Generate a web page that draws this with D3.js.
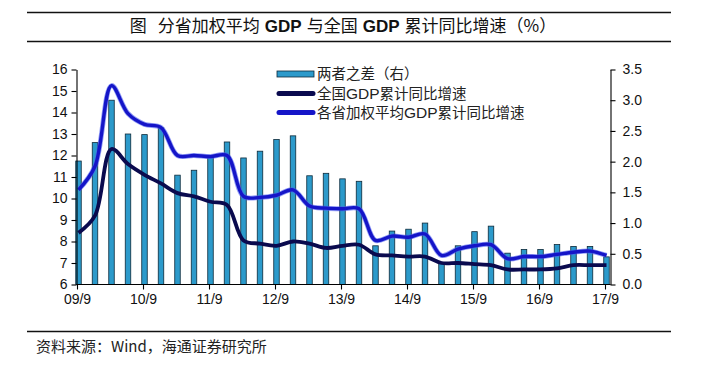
<!DOCTYPE html>
<html><head><meta charset="utf-8">
<script src="https://cdn.jsdelivr.net/npm/d3@7/dist/d3.min.js"></script>
<style>
body{margin:0;background:#fff;}
svg{display:block;}
</style></head>
<body><svg id="c" width="702" height="373"></svg>
<script>
const quarters = ["09/9","09/12","10/3","10/6","10/9","10/12","11/3","11/6","11/9","11/12","12/3","12/6","12/9","12/12","13/3","13/6","13/9","13/12","14/3","14/6","14/9","14/12","15/3","15/6","15/9","15/12","16/3","16/6","16/9","16/12","17/3","17/6","17/9"];
const tickLabels = ["09/9","10/9","11/9","12/9","13/9","14/9","15/9","16/9","17/9"];
const diffBars = [2.01,2.31,3.00,2.45,2.44,2.55,1.78,1.86,2.07,2.32,2.06,2.17,2.36,2.42,1.77,1.81,1.72,1.68,0.63,0.87,0.90,1.00,0.35,0.63,0.86,0.95,0.51,0.57,0.57,0.65,0.62,0.62,0.45];
const nationalGDP = [8.4,9.2,12.3,11.6,11.1,10.7,10.25,10.1,9.85,9.7,8.05,7.9,7.8,8.0,7.9,7.7,7.8,7.85,7.4,7.35,7.3,7.3,7.0,7.0,6.95,6.9,6.7,6.7,6.7,6.75,6.9,6.9,6.9];
const provinceGDP = [10.4,11.5,15.25,13.95,13.45,13.3,12.0,12.0,11.95,12.0,10.1,10.05,10.15,10.4,9.65,9.55,9.52,9.52,8.05,8.25,8.2,8.35,7.35,7.65,7.8,7.85,7.2,7.3,7.3,7.4,7.5,7.55,7.35];
const leftTicks = [6,7,8,9,10,11,12,13,14,15,16];
const rightTicks = [0,0.5,1,1.5,2,2.5,3,3.5];
const legendLabels = ["两者之差（右）","全国GDP累计同比增速","各省加权平均GDP累计同比增速"];
const titleParts = ["图", "分省加权平均", "GDP", "与全国", "GDP", "累计同比增速（%）"];
const sourceText = "资料来源：Wind，海通证券研究所";

const svg = d3.select("#c");
const L = 76.5, R = 610.5, T = 69.5, B = 284.5;
const cjk = "'Noto Sans CJK SC','Noto Sans',sans-serif";
const latin = "'Liberation Sans',Arial,sans-serif";

const x = d3.scaleLinear().domain([0, quarters.length - 1]).range([77, 605]);
const yL = d3.scaleLinear().domain([6, 16]).range([B, T]);
const yR = d3.scaleLinear().domain([0, 3.5]).range([B, T]);

// rules
[12.5, 41.5, 331.5].forEach(yy => svg.append("line").attr("x1", 27).attr("x2", 671).attr("y1", yy).attr("y2", yy).attr("stroke", "#111").attr("stroke-width", 1.3));

// title
const tt = svg.append("text").attr("x", 343).attr("y", 32).attr("text-anchor", "middle").attr("font-family", cjk).attr("font-size", 17).attr("fill", "#111");
titleParts.forEach((p, k) => {
  const s = tt.append("tspan").text(p);
  if (k > 0) s.attr("dx", k === 1 ? 11 : 5);
  if (p === "GDP") s.attr("font-family", latin).attr("font-weight", "bold");
});

// bars
const bw = 5.5;
svg.append("g").selectAll("rect").data(diffBars).join("rect")
  .attr("x", (d, i) => x(i) + 1.5 - bw / 2)
  .attr("y", d => yR(d))
  .attr("width", bw)
  .attr("height", d => yR(0) - yR(d))
  .attr("fill", "#2C9ACB")
  .attr("stroke", "#0d2a3a").attr("stroke-width", 0.8);

// lines
const line = d3.line().x((d, i) => x(i) + 1.5).y(d => yL(d)).curve(d3.curveCatmullRom.alpha(0.5));
svg.append("path").datum(provinceGDP).attr("d", line).attr("fill", "none").attr("stroke", "#4a5cf0").attr("stroke-width", 5).attr("stroke-opacity", 0.6);
svg.append("path").datum(provinceGDP).attr("d", line).attr("fill", "none").attr("stroke", "#1515c8").attr("stroke-width", 3.4);
svg.append("path").datum(nationalGDP).attr("d", line).attr("fill", "none").attr("stroke", "#0a0a4e").attr("stroke-width", 3.8);

// axes
const axL = d3.axisLeft(yL).tickValues(leftTicks).tickSize(5).tickSizeOuter(0).tickFormat(d3.format("d"));
const axR = d3.axisRight(yR).tickValues(rightTicks).tickSize(5).tickSizeOuter(0).tickFormat(d3.format(".1f"));
const axB = d3.axisBottom(x).tickValues(d3.range(0, quarters.length, 4)).tickSize(5).tickSizeOuter(0).tickFormat(i => quarters[i]);
function style(g) {
  g.selectAll("path,line").attr("stroke", "#000").attr("stroke-width", 1.1);
  g.selectAll("text").attr("font-family", latin).attr("font-size", 14).attr("fill", "#111");
}
svg.append("g").attr("transform", `translate(${L},0)`).call(axL).call(style).call(g => g.selectAll("text").attr("x", -9));
svg.append("g").attr("transform", `translate(${R},0)`).call(axR).call(style).call(g => g.selectAll("text").attr("x", 12));
svg.append("g").attr("transform", `translate(0,${B})`).call(axB).call(style).call(g => g.select(".domain").attr("d", `M${L},0H${R}`)).call(g => g.selectAll("text").attr("y", 10));

// legend
const lg = svg.append("g").attr("font-family", cjk).attr("font-size", 14.5).attr("fill", "#222");
lg.append("rect").attr("x", 277).attr("y", 71).attr("width", 37).attr("height", 6).attr("fill", "#2C9ACB").attr("stroke", "#0d2a3a").attr("stroke-width", 0.8);
lg.append("line").attr("x1", 279).attr("x2", 313).attr("y1", 93.5).attr("y2", 93.5).attr("stroke", "#0a0a4e").attr("stroke-width", 5).attr("stroke-linecap", "round");
lg.append("line").attr("x1", 279).attr("x2", 313).attr("y1", 112.5).attr("y2", 112.5).attr("stroke", "#1515c8").attr("stroke-width", 5).attr("stroke-linecap", "round");
[79, 98.5, 117.5].forEach((yy, k) => {
  const t = lg.append("text").attr("x", 317).attr("y", yy);
  legendLabels[k].split(/(GDP)/).forEach(p => {
    const s = t.append("tspan").text(p);
    if (p === "GDP") s.attr("font-family", latin).attr("font-size", 15.5);
  });
});

// source
svg.append("text").attr("x", 36).attr("y", 352).attr("font-family", cjk).attr("font-size", 15).attr("fill", "#222").text(sourceText);
</script></body></html>
